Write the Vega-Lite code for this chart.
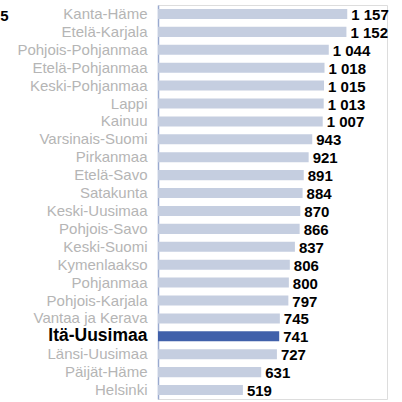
{
  "$schema": "https://vega.github.io/schema/vega-lite/v6.json",
  "autosize": "none",
  "width": 229,
  "height": 394,
  "padding": {"left": 158, "top": 5, "right": 15, "bottom": 3},
  "background": "white",
  "title": {"text": "5", "orient": "left", "angle": 0, "anchor": "end", "frame": "bounds", "align": "right", "baseline": "top", "offset": 0, "dy": 4, "font": "Liberation Sans", "fontSize": 15, "fontWeight": "bold", "color": "#000000"},
  "data": {"values": [
    {"region": "Kanta-Häme", "value": 1157, "label": "1 157", "hl": "no"},
    {"region": "Etelä-Karjala", "value": 1152, "label": "1 152", "hl": "no"},
    {"region": "Pohjois-Pohjanmaa", "value": 1044, "label": "1 044", "hl": "no"},
    {"region": "Etelä-Pohjanmaa", "value": 1018, "label": "1 018", "hl": "no"},
    {"region": "Keski-Pohjanmaa", "value": 1015, "label": "1 015", "hl": "no"},
    {"region": "Lappi", "value": 1013, "label": "1 013", "hl": "no"},
    {"region": "Kainuu", "value": 1007, "label": "1 007", "hl": "no"},
    {"region": "Varsinais-Suomi", "value": 943, "label": "943", "hl": "no"},
    {"region": "Pirkanmaa", "value": 921, "label": "921", "hl": "no"},
    {"region": "Etelä-Savo", "value": 891, "label": "891", "hl": "no"},
    {"region": "Satakunta", "value": 884, "label": "884", "hl": "no"},
    {"region": "Keski-Uusimaa", "value": 870, "label": "870", "hl": "no"},
    {"region": "Pohjois-Savo", "value": 866, "label": "866", "hl": "no"},
    {"region": "Keski-Suomi", "value": 837, "label": "837", "hl": "no"},
    {"region": "Kymenlaakso", "value": 806, "label": "806", "hl": "no"},
    {"region": "Pohjanmaa", "value": 800, "label": "800", "hl": "no"},
    {"region": "Pohjois-Karjala", "value": 797, "label": "797", "hl": "no"},
    {"region": "Vantaa ja Kerava", "value": 745, "label": "745", "hl": "no"},
    {"region": "Itä-Uusimaa", "value": 741, "label": "741", "hl": "yes"},
    {"region": "Länsi-Uusimaa", "value": 727, "label": "727", "hl": "no"},
    {"region": "Päijät-Häme", "value": 631, "label": "631", "hl": "no"},
    {"region": "Helsinki", "value": 519, "label": "519", "hl": "no"}
  ]},
  "encoding": {
    "y": {
      "field": "region", "type": "nominal", "sort": null,
      "scale": {"paddingInner": 0.44, "paddingOuter": 0.22},
      "axis": {
        "title": null, "ticks": false, "labelPadding": 11,
        "domainColor": "#9aaad0", "domainWidth": 1.5,
        "labelFont": "Liberation Sans",
        "labelFontSize": {"condition": {"test": "datum.value === 'Itä-Uusimaa'", "value": 17.5}, "value": 15},
        "labelColor": {"condition": {"test": "datum.value === 'Itä-Uusimaa'", "value": "#000000"}, "value": "#b5b5b5"},
        "labelFontWeight": {"condition": {"test": "datum.value === 'Itä-Uusimaa'", "value": "bold"}, "value": "normal"},
        "labelLimit": 200
      }
    },
    "x": {
      "field": "value", "type": "quantitative",
      "scale": {"domain": [0, 1400]},
      "axis": null
    }
  },
  "layer": [
    {
      "mark": {"type": "bar"},
      "encoding": {
        "color": {
          "field": "hl", "type": "nominal",
          "scale": {"domain": ["no", "yes"], "range": ["#c5cee0", "#4060aa"]},
          "legend": null
        }
      }
    },
    {
      "mark": {"type": "text", "align": "left", "baseline": "middle", "dx": 4, "dy": 1, "font": "Liberation Sans", "fontSize": 15, "fontWeight": "bold", "color": "#000000"},
      "encoding": {"text": {"field": "label"}}
    }
  ]
}
